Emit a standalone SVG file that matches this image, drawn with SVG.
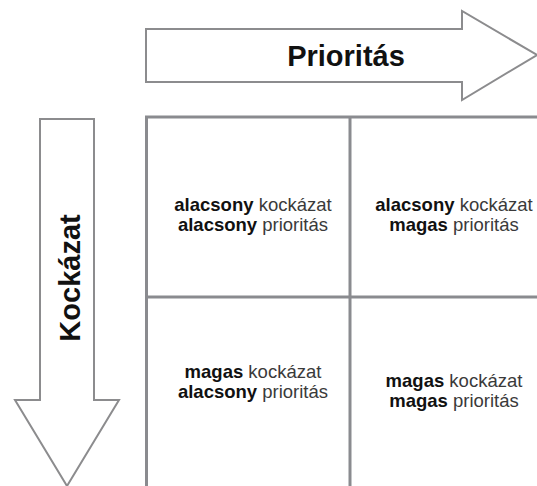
<svg xmlns="http://www.w3.org/2000/svg" width="537" height="486" viewBox="0 0 537 486">
<style>
.arrow{fill:#fff;stroke:#8c8c8e;stroke-width:2}
.grid{fill:none;stroke:#8a8b8f;stroke-width:3}
.t{font-family:"Liberation Sans",Arial,sans-serif;font-size:18.5px;fill:#3a3a3a;text-anchor:middle}
.t tspan.b{font-weight:bold;fill:#111}
.h{font-family:"Liberation Sans",Arial,sans-serif;font-size:29px;font-weight:bold;fill:#111;text-anchor:middle}
</style>
<rect width="537" height="486" fill="#fff"/>
<g id="arrow-priority">
<polygon class="arrow" points="146,29 462,29 462,11 537,55 462,100 462,82 146,82"/>
<text class="h" x="346" y="66">Prioritás</text>
</g>
<g id="arrow-risk">
<polygon class="arrow" points="40,119 94,119 94,400 119,400 67,486 15,400 40,400"/>
<text class="h" transform="translate(80,278) rotate(-90)" x="0" y="0">Kockázat</text>
</g>
<g id="connectors">
<path class="grid" d="M146.5,540 V117 H560 M350,117 V540 M146.5,297 H560"/>
</g>
<g id="cell-ll">
<text class="t" x="253" y="211"><tspan class="b">alacsony</tspan> kockázat</text>
<text class="t" x="253" y="231"><tspan class="b">alacsony</tspan> prioritás</text>
</g>
<g id="cell-lh">
<text class="t" x="454" y="211"><tspan class="b">alacsony</tspan> kockázat</text>
<text class="t" x="454" y="231"><tspan class="b">magas</tspan> prioritás</text>
</g>
<g id="cell-hl">
<text class="t" x="253" y="378"><tspan class="b">magas</tspan> kockázat</text>
<text class="t" x="253" y="398"><tspan class="b">alacsony</tspan> prioritás</text>
</g>
<g id="cell-hh">
<text class="t" x="454" y="387"><tspan class="b">magas</tspan> kockázat</text>
<text class="t" x="454" y="407"><tspan class="b">magas</tspan> prioritás</text>
</g>
</svg>
